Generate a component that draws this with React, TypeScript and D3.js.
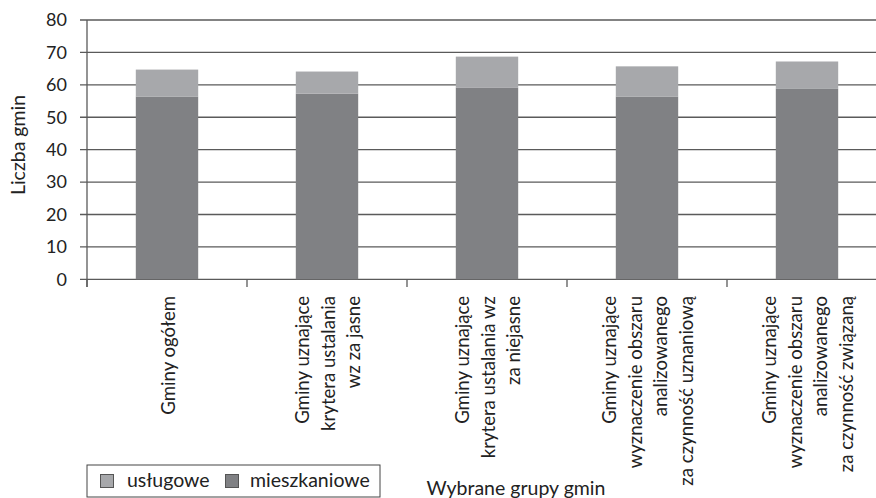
import React from "react";
import * as d3 from "d3";

const categories: string[][] = [
  ["Gminy ogółem"],
  ["Gminy uznające", "krytera ustalania", "wz za jasne"],
  ["Gminy uznające", "krytera ustalania wz", "za niejasne"],
  ["Gminy uznające", "wyznaczenie obszaru", "analizowanego", "za czynność uznaniową"],
  ["Gminy uznające", "wyznaczenie obszaru", "analizowanego", "za czynność związaną"],
];
const mieszkaniowe = [56.4, 57.3, 59.2, 56.4, 58.9];
const uslugowe = [8.3, 6.8, 9.5, 9.3, 8.3];
const yTicks = [0, 10, 20, 30, 40, 50, 60, 70, 80];
const seriesNames = ["usługowe", "mieszkaniowe"];
const yTitle = "Liczba gmin";
const xTitle = "Wybrane grupy gmin";

const W = 876;
const H = 498;
const FONT = "Lato, 'Open Sans', sans-serif";
const LIGHT = "#a7a8ab";
const DARK = "#808184";
const GRID = "#5a5a5a";

export default function App() {
  const keys = categories.map((_, i) => String(i));
  const x = d3.scaleBand<string>().domain(keys).range([87, 887]).padding(0);
  const y = d3.scaleLinear().domain([0, 80]).range([279.3, 20]);
  const bw = x.bandwidth();
  const barW = bw * 0.39;
  const fsTick = 18;
  const fsLab = 18.6;
  const fsText = 19.5;
  const lineGap = 25.5;

  const stacked = d3
    .stack<number>()
    .keys(["m", "u"])
    .value((i, k) => (k === "m" ? mieszkaniowe[i] : uslugowe[i]))(d3.range(categories.length));

  return (
    <svg
      width={W}
      height={H}
      style={{ position: "absolute", left: 0, top: 0, background: "#fff" }}
      fontFamily={FONT}
    >
      {/* gridlines */}
      {yTicks.map((t) => (
        <line key={t} x1={80} x2={W} y1={y(t)} y2={y(t)} stroke={GRID} strokeWidth={1.3} />
      ))}
      {/* y axis */}
      <line x1={87} x2={87} y1={y(80)} y2={287} stroke={GRID} strokeWidth={1.3} />
      {yTicks.map((t) => (
        <text key={t} x={67} y={y(t)} dy="0.35em" textAnchor="end" fontSize={fsTick} fill="#222">
          {t}
        </text>
      ))}
      <text
        transform={`translate(18,145) rotate(-90)`}
        textAnchor="middle"
        dy="0.35em"
        fontSize={fsText}
        fill="#222"
      >
        {yTitle}
      </text>
      {/* bars */}
      {stacked.map((layer) =>
        layer.map((d, i) => (
          <rect
            key={layer.key + i}
            x={(x(String(i)) as number) + (bw - barW) / 2}
            width={barW}
            y={y(d[1])}
            height={y(d[0]) - y(d[1])}
            fill={layer.key === "m" ? DARK : LIGHT}
          />
        ))
      )}
      {/* x category ticks */}
      {keys.map((k) => (
        <line
          key={k}
          x1={x(k) as number}
          x2={x(k) as number}
          y1={y(0)}
          y2={287}
          stroke={GRID}
          strokeWidth={1.3}
        />
      ))}
      {/* x labels */}
      {categories.map((lines, i) => {
        const cx = (x(String(i)) as number) + bw / 2 + 1;
        const n = lines.length;
        return lines.map((ln, j) => (
          <text
            key={i + "-" + j}
            transform={`translate(${cx + (j - (n - 1) / 2) * lineGap},296) rotate(-90)`}
            textAnchor="end"
            dy="0.35em"
            fontSize={fsLab}
            fill="#222"
          >
            {ln}
          </text>
        ));
      })}
      {/* x title */}
      <text x={516} y={495} textAnchor="middle" fontSize={fsText} fill="#222">
        {xTitle}
      </text>
      {/* legend */}
      <rect x={87} y={465} width={293} height={32} fill="#fff" stroke="#444" strokeWidth={1} />
      <rect x={100.5} y={474.5} width={13} height={13} fill={LIGHT} stroke="#555" />
      <text x={127} y={487} fontSize={fsText} fill="#222">
        {seriesNames[0]}
      </text>
      <rect x={225.5} y={474.5} width={13} height={13} fill={DARK} stroke="#555" />
      <text x={250} y={487} fontSize={fsText} fill="#222">
        {seriesNames[1]}
      </text>
    </svg>
  );
}
